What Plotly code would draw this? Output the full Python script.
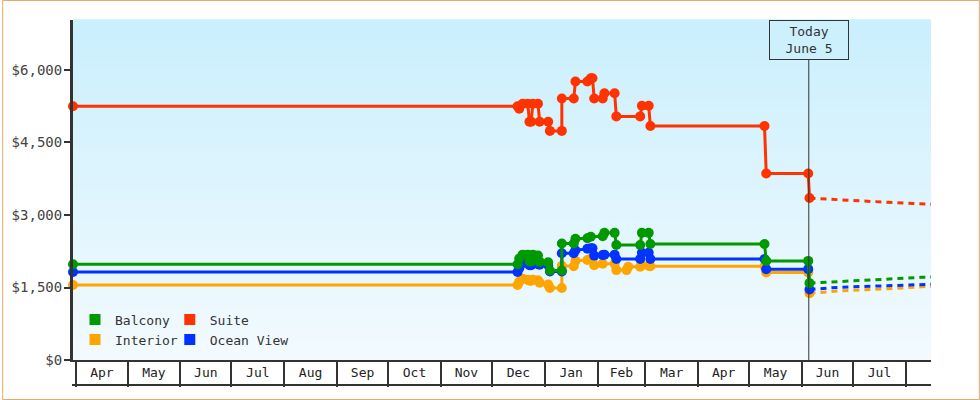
import plotly.graph_objects as go

# ---------------- data ----------------
suite_dates = ["2024-03-30", "2024-12-16", "2024-12-17", "2024-12-19", "2024-12-22", "2024-12-23",
               "2024-12-24", "2024-12-25", "2024-12-28", "2024-12-29", "2025-01-03", "2025-01-04",
               "2025-01-11", "2025-01-11", "2025-01-18", "2025-01-19", "2025-01-26", "2025-01-28",
               "2025-01-29", "2025-01-30", "2025-02-04", "2025-02-05", "2025-02-11", "2025-02-12",
               "2025-02-26", "2025-02-27", "2025-03-03", "2025-03-04", "2025-05-10", "2025-05-11",
               "2025-06-04 16:00", "2025-06-05 10:00"]
suite_values = [5250, 5250, 5200, 5300, 5300, 4930,
                4930, 5300, 5300, 4930, 4930, 4740,
                4740, 5410, 5410, 5760, 5760, 5830,
                5830, 5410, 5410, 5520, 5520, 5040,
                5040, 5260, 5260, 4840, 4840, 3860,
                3860, 3350]

balcony_dates = ["2024-03-30", "2024-12-16", "2024-12-17", "2024-12-19", "2024-12-22", "2024-12-23",
                 "2024-12-24", "2024-12-25", "2024-12-28", "2024-12-29", "2025-01-03", "2025-01-04",
                 "2025-01-11", "2025-01-11", "2025-01-18", "2025-01-19", "2025-01-26", "2025-01-28",
                 "2025-02-04", "2025-02-05", "2025-02-11", "2025-02-12", "2025-02-26", "2025-02-27",
                 "2025-03-03", "2025-03-04", "2025-05-10", "2025-05-11", "2025-06-04 16:00",
                 "2025-06-05 10:00"]
balcony_values = [1980, 1980, 2100, 2180, 2180, 2040,
                  2040, 2180, 2160, 2030, 2020, 1850,
                  1850, 2410, 2410, 2510, 2520, 2550,
                  2560, 2630, 2630, 2380, 2380, 2630,
                  2630, 2400, 2400, 2050, 2050,
                  1590]

ocean_dates = ["2024-03-30", "2024-12-16", "2024-12-17", "2024-12-19", "2024-12-22", "2024-12-23",
               "2024-12-24", "2024-12-25", "2024-12-28", "2024-12-29", "2025-01-03", "2025-01-04",
               "2025-01-11", "2025-01-11", "2025-01-18", "2025-01-19", "2025-01-26", "2025-01-28",
               "2025-01-29", "2025-01-30", "2025-02-04", "2025-02-05", "2025-02-11", "2025-02-12",
               "2025-02-26", "2025-02-27", "2025-03-03", "2025-03-04", "2025-05-10", "2025-05-11",
               "2025-06-04 16:00", "2025-06-05 10:00"]
ocean_values = [1820, 1820, 1900, 2000, 2000, 1960,
                1960, 2000, 1980, 1970, 1960, 1830,
                1830, 2210, 2210, 2270, 2300, 2310,
                2310, 2160, 2170, 2180, 2180, 2090,
                2090, 2220, 2220, 2090, 2090, 1880,
                1880, 1460]

interior_dates = ["2024-03-30", "2024-12-16", "2024-12-17", "2024-12-19", "2024-12-22", "2024-12-23",
                  "2024-12-24", "2024-12-25", "2024-12-28", "2024-12-29", "2025-01-03", "2025-01-04",
                  "2025-01-11", "2025-01-11", "2025-01-18", "2025-01-19", "2025-01-26", "2025-01-28",
                  "2025-01-29", "2025-01-30", "2025-02-04", "2025-02-11", "2025-02-12", "2025-02-18",
                  "2025-02-19", "2025-02-26", "2025-02-27", "2025-03-03", "2025-03-04", "2025-05-10",
                  "2025-05-11", "2025-06-04 16:00", "2025-06-05 10:00"]
interior_values = [1550, 1550, 1620, 1680, 1660, 1640,
                   1640, 1660, 1650, 1600, 1560, 1490,
                   1490, 1950, 1940, 2050, 2070, 2100,
                   2100, 1960, 1990, 1990, 1860, 1860,
                   1930, 1930, 1960, 1950, 1940, 1940,
                   1810, 1810, 1380]

forecast_dates = ["2025-06-05 10:00", "2025-06-23", "2025-07-06", "2025-07-18", "2025-07-30",
                  "2025-08-10", "2025-08-20"]
suite_forecast = [3350, 3310, 3290, 3270, 3250, 3230, 3215]
balcony_forecast = [1590, 1625, 1650, 1675, 1690, 1710, 1720]
ocean_forecast = [1460, 1505, 1520, 1530, 1545, 1560, 1570]
interior_forecast = [1380, 1430, 1450, 1465, 1490, 1515, 1530]

y_ticks = [0, 1500, 3000, 4500, 6000]
y_tick_labels = ["$0", "$1,500", "$3,000", "$4,500", "$6,000"]

today = "2025-06-05"
today_label = "Today<br>June 5"

# ---------------- styles ----------------
FONT = "DejaVu Sans Mono"
COL = {"Balcony": "#009900", "Suite": "#ff3300", "Interior": "#ffa500", "Ocean View": "#0033ff"}

series = [
    ("Interior", interior_dates, interior_values, interior_forecast),
    ("Ocean View", ocean_dates, ocean_values, ocean_forecast),
    ("Balcony", balcony_dates, balcony_values, balcony_forecast),
    ("Suite", suite_dates, suite_values, suite_forecast),
]

fig = go.Figure()
for name, d, v, fc in series:
    fig.add_trace(go.Scatter(x=forecast_dates, y=fc, mode="lines",
                             line=dict(color=COL[name], width=3, dash="6px,5px"),
                             showlegend=False, hoverinfo="skip"))
for name, d, v, fc in series:
    fig.add_trace(go.Scatter(x=d, y=v, mode="lines+markers", name=name,
                             line=dict(color=COL[name], width=3),
                             marker=dict(color=COL[name], size=10, symbol="circle"),
                             showlegend=False, cliponaxis=False))

# legend entries (square swatches), two columns
for name, lg in [("Balcony", "legend"), ("Interior", "legend"), ("Suite", "legend2"), ("Ocean View", "legend2")]:
    fig.add_trace(go.Scatter(x=[None], y=[None], mode="markers", name=name,
                             marker=dict(color=COL[name], size=11, symbol="square", line=dict(width=0)),
                             legend=lg, showlegend=True))

# background gradient bands
top = (202, 239, 253)
bot = (242, 250, 254)
n = 34
shapes = []
for i in range(n):
    t = i / (n - 1)
    c = tuple(round(top[k] + (bot[k] - top[k]) * t) for k in range(3))
    shapes.append(dict(type="rect", xref="x domain", yref="y domain", x0=0, x1=1,
                       y0=1 - (i + 1) / n, y1=1 - i / n + 0.002, line=dict(width=0),
                       fillcolor="rgb(%d,%d,%d)" % c, layer="below"))

# today line
shapes.append(dict(type="line", xref="x", yref="paper", x0=today, x1=today, y0=0, y1=300 / 340,
                   line=dict(color="#333333", width=1)))
# bottom line of month boxes
shapes.append(dict(type="line", xref="paper", yref="paper", x0=-1 / 860, x1=1, y0=-25 / 340, y1=-25 / 340,
                   line=dict(color="#333333", width=2)))
# outer border
shapes.append(dict(type="rect", xref="paper", yref="paper", x0=-70.5 / 860, x1=908.5 / 860,
                   y0=-39.5 / 340, y1=359.5 / 340, line=dict(color="#e8aa66", width=1),
                   fillcolor="rgba(0,0,0,0)"))

legend_common = dict(bgcolor="rgba(0,0,0,0)", font=dict(family=FONT, size=13, color="#333333"),
                     xanchor="left", yanchor="top", itemwidth=30, tracegroupgap=0)

fig.update_layout(
    width=980, height=400,
    margin=dict(l=71, r=49, t=20, b=40),
    paper_bgcolor="white", plot_bgcolor="rgba(0,0,0,0)",
    shapes=shapes,
    showlegend=True,
    legend=dict(x=2 / 860, y=0.16 + 1 / 340, **legend_common),
    legend2=dict(x=0.1093 + 3 / 860, y=0.16 + 1 / 340, **legend_common),
    xaxis=dict(type="date", range=["2024-03-30", "2025-08-15 18:00"],
               tick0="2024-04-01", dtick="M1", tickformat="%b", ticklabelmode="period",
               ticks="outside", ticklen=25, tickwidth=1.5, tickcolor="#333333",
               ticklabelstandoff=-26,
               showline=True, linecolor="#333333", linewidth=2, showgrid=False, zeroline=False,
               tickfont=dict(family=FONT, size=13, color="#222222")),
    yaxis=dict(range=[0, 7034], tickvals=y_ticks, ticktext=y_tick_labels,
               ticks="outside", ticklen=6, tickwidth=2, tickcolor="#333333",
               ticklabelstandoff=-1,
               showline=True, linecolor="#333333", linewidth=3, showgrid=False, zeroline=False,
               tickfont=dict(family=FONT, size=14, color="#444444")),
    annotations=[dict(x=today, xref="x", y=1, yref="paper", xanchor="center", yanchor="top",
                      text=today_label, showarrow=False, align="center",
                      font=dict(family=FONT, size=13, color="#333333"),
                      bgcolor="rgb(205,240,253)", bordercolor="#333333", borderwidth=1,
                      borderpad=1, width=76, height=36)],
)

fig.write_html("out.html")
